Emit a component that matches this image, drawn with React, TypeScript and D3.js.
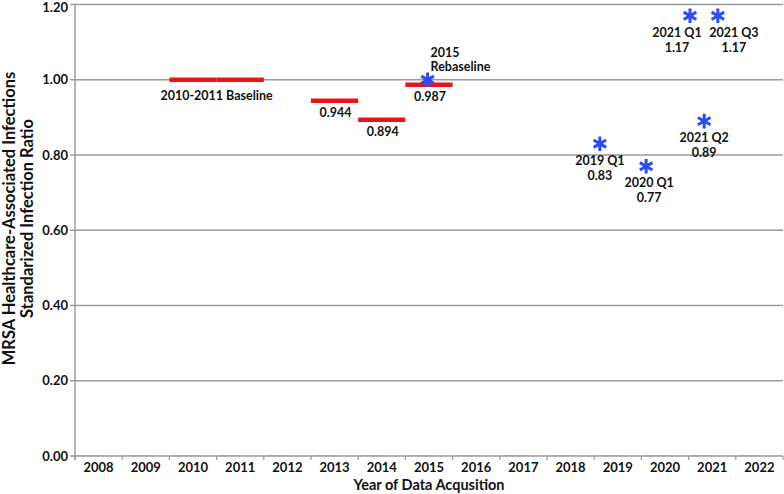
import React from "react";
import * as d3 from "d3";

const years = ["2008","2009","2010","2011","2012","2013","2014","2015","2016","2017","2018","2019","2020","2021","2022"];
const yTicks = [0, 0.2, 0.4, 0.6, 0.8, 1.0, 1.2];

const barYears = ["2010", "2011", "2013", "2014", "2015"];
const barValues = [1.0, 1.0, 0.944, 0.894, 0.987];
const barLabels = ["", "", "0.944", "0.894", "0.987"];

const starYearPos = [2015.47, 2019.12, 2020.10, 2021.03, 2021.33, 2021.62];
const starValues = [1.0, 0.83, 0.77, 1.17, 0.89, 1.17];
const starNames = ["2015 Rebaseline", "2019 Q1", "2020 Q1", "2021 Q1", "2021 Q2", "2021 Q3"];
const starValueLabels = ["", "0.83", "0.77", "1.17", "0.89", "1.17"];

const labelShift: Record<string, number> = { "2019 Q1": 0, "2020 Q1": 3, "2021 Q1": -13, "2021 Q2": 0, "2021 Q3": 16 };

const W = 784, H = 494;
const M = { left: 75, right: 783, top: 4.5, bottom: 456 };
const FONT = "Lato, 'Open Sans', sans-serif";

export default function App() {
  const x = d3.scaleBand<string>().domain(years).range([M.left, M.right]).padding(0);
  const xc = d3.scaleLinear().domain([2008, 2023]).range([M.left, M.right]);
  const y = d3.scaleLinear().domain([0, 1.2]).range([M.bottom, M.top]);
  const star = d3.symbol().type(d3.symbolAsterisk).size(150);
  const bw = x.bandwidth();
  const red = "#e8141a";
  const blue = "#2a4bf5";
  const grid = "#9a9a9a";

  return (
    <svg width={W} height={H} style={{ position: "absolute", left: 0, top: 0, background: "#fff" }} fontFamily={FONT}>
      {yTicks.map((t) => (
        <line key={"g" + t} x1={M.left} x2={M.right} y1={y(t)} y2={y(t)} stroke={grid} strokeWidth={1.5} />
      ))}
      {years.map((yr) => (
        <g key={"z" + yr}>
          <line x1={x(yr)! + 3} x2={x(yr)! + bw / 2} y1={y(0) - 0.5} y2={y(0) - 0.5} stroke="#7fa6cf" strokeWidth={1} opacity={0.7} />
          <line x1={x(yr)! + bw / 2} x2={x(yr)! + bw - 3} y1={y(0) - 0.5} y2={y(0) - 0.5} stroke="#d99a8a" strokeWidth={1} opacity={0.7} />
        </g>
      ))}
      <line x1={M.left} x2={M.left} y1={M.top - 1} y2={M.bottom + 4} stroke={grid} strokeWidth={1.5} />
      {yTicks.map((t) => (
        <g key={"yt" + t}>
          <line x1={M.left - 5} x2={M.left} y1={y(t)} y2={y(t)} stroke={grid} strokeWidth={1.5} />
          <text x={M.left - 7} y={Math.max(y(t), 7.5)} dy="0.35em" textAnchor="end" fontSize={13} fontWeight={700} fill="#111">
            {t.toFixed(2)}
          </text>
        </g>
      ))}
      {years.map((yr) => (
        <line key={"xt" + yr} x1={x(yr)!} x2={x(yr)!} y1={M.bottom} y2={M.bottom + 4} stroke={grid} strokeWidth={1.2} />
      ))}
      <line x1={M.right} x2={M.right} y1={M.bottom} y2={M.bottom + 4} stroke={grid} strokeWidth={1.2} />
      {years.map((yr) => (
        <text key={"xl" + yr} x={x(yr)! + bw / 2} y={M.bottom + 16} textAnchor="middle" fontSize={13} fontWeight={700} fill="#111">
          {yr}
        </text>
      ))}
      {barYears.map((yr, i) => (
        <g key={"b" + yr}>
          <line x1={x(yr)!} x2={x(yr)! + bw} y1={y(barValues[i])} y2={y(barValues[i])} stroke={red} strokeWidth={4.5} />
          {barLabels[i] && (
            <text x={x(yr)! + bw / 2 + 1} y={y(barValues[i]) + 16} textAnchor="middle" fontSize={12.5} fontWeight={700} fill="#111">
              {barLabels[i]}
            </text>
          )}
        </g>
      ))}
      <text x={x("2011")!} y={y(1.0) + 20} textAnchor="middle" fontSize={12.5} fontWeight={700} fill="#111">
        2010-2011 Baseline
      </text>
      {starYearPos.map((p, i) => (
        <path key={"s" + i} d={star()!} transform={`translate(${xc(p)},${y(starValues[i])})`} fill="none" stroke={blue} strokeWidth={3} />
      ))}
      <text x={xc(starYearPos[0]) + 3} y={y(starValues[0]) - 23} fontSize={12.5} fontWeight={700} fill="#111">
        <tspan x={xc(starYearPos[0]) + 3}>2015</tspan>
        <tspan x={xc(starYearPos[0]) + 3} dy={14.5}>Rebaseline</tspan>
      </text>
      {starYearPos.map((p, i) => {
        if (i === 0) return null;
        const cx = xc(p) + (labelShift[starNames[i]] || 0);
        const cy = y(starValues[i]);
        return (
          <text key={"sl" + i} textAnchor="middle" fontSize={12.5} fontWeight={700} fill="#111">
            <tspan x={cx} y={cy + 21}>{starNames[i]}</tspan>
            <tspan x={cx} y={cy + 36}>{starValueLabels[i]}</tspan>
          </text>
        );
      })}
      <text x={(M.left + M.right) / 2} y={490} textAnchor="middle" fontSize={14.5} fontWeight={700} fill="#111">
        Year of Data Acqusition
      </text>
      <text transform="translate(15,218.5) rotate(-90)" textAnchor="middle" fontSize={16.5} fontWeight={700} fill="#111">
        MRSA Healthcare-Associated Infections
      </text>
      <text transform="translate(33,218.5) rotate(-90)" textAnchor="middle" fontSize={16.5} fontWeight={700} fill="#111">
        Standarized Infection Ratio
      </text>
    </svg>
  );
}
